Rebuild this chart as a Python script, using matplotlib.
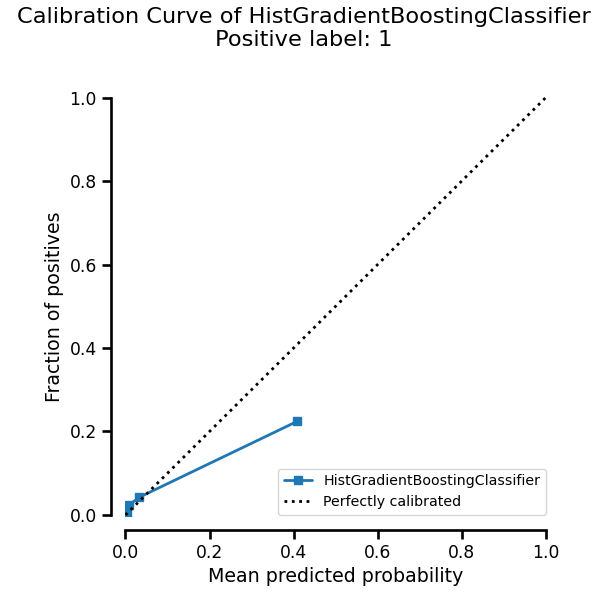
import numpy as np
import seaborn as sns
from matplotlib import pyplot as plt

sns.set_style("ticks")
plt.rcParams["text.color"] = "black"
plt.rcParams["axes.labelcolor"] = "black"
plt.rcParams["xtick.color"] = "black"
plt.rcParams["ytick.color"] = "black"
plt.rcParams["axes.edgecolor"] = "black"

prob_pred = [0.004, 0.008, 0.032, 0.408]
prob_true = [0.004, 0.023, 0.042, 0.224]
name = "HistGradientBoostingClassifier"

fig, ax = plt.subplots(figsize=(6.02, 5.97), dpi=100)
ax.plot(prob_pred, prob_true, "s-", color="#1f77b4", lw=2, ms=6, label=name)
ax.plot([0, 1], [0, 1], "k:", lw=2, label="Perfectly calibrated")
ax.set_xlabel("Mean predicted probability", fontsize=13.7)
ax.set_ylabel("Fraction of positives", fontsize=13.7)
ax.set_xlim(-0.002, 1.002)
ax.set_ylim(-0.002, 1.002)
ax.set_xticks(np.arange(0, 1.01, 0.2))
ax.set_yticks(np.arange(0, 1.01, 0.2))
ax.tick_params(labelsize=12.3, width=1.9, length=6.5)
ax.legend(loc="lower right", fontsize=10.2, borderaxespad=0.05)
fig.suptitle("Calibration Curve of " + name + "\nPositive label: 1",
             fontsize=16.2, x=0.505, y=0.988, va="top")
for s in ax.spines.values():
    s.set_linewidth(1.9)
sns.despine(offset=10, trim=True)
plt.subplots_adjust(left=0.207, right=0.908, bottom=0.136, top=0.838)
plt.savefig("out.png")
